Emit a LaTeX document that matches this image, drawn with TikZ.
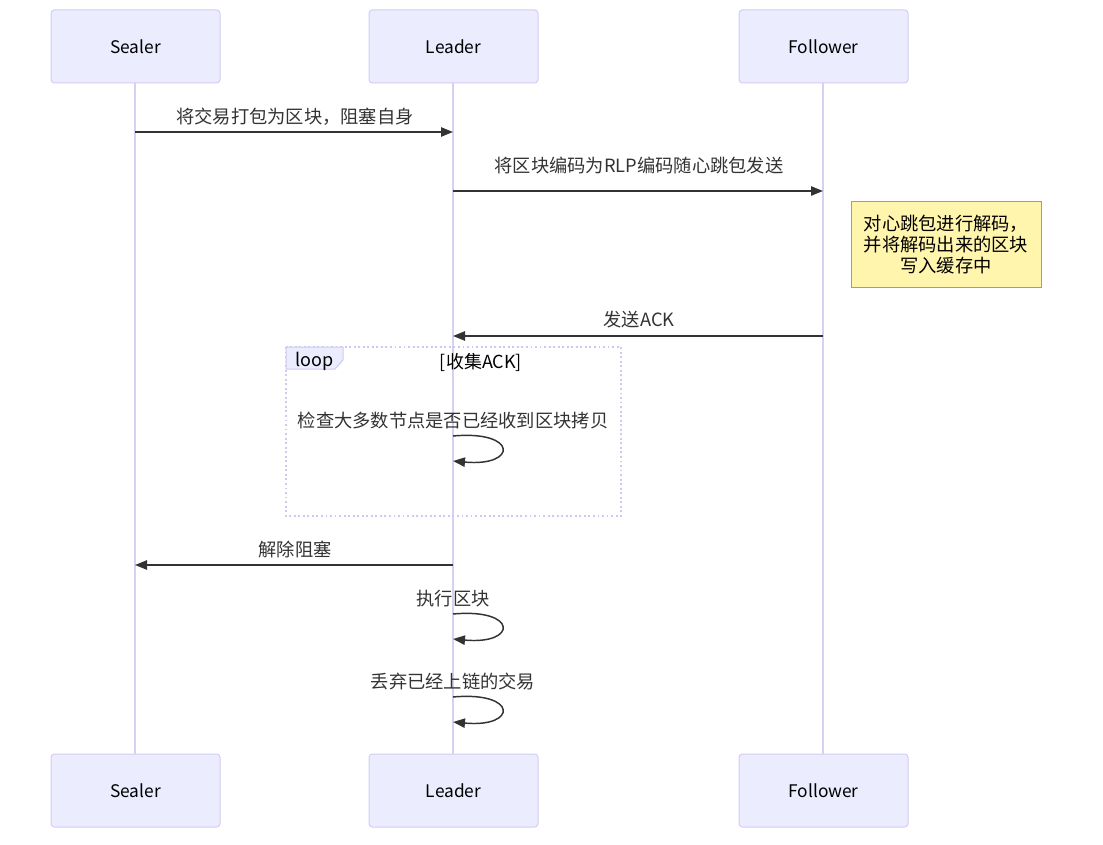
\documentclass[tikz,border=0pt]{standalone}
\usepackage{fontspec}
\setmainfont{Noto Sans CJK SC}
\usetikzlibrary{arrows.meta}
\definecolor{actorfill}{HTML}{ECECFF}
\definecolor{actorline}{HTML}{D4CCF4}
\definecolor{lifeline}{HTML}{D8D0F4}
\definecolor{ink}{HTML}{333333}
\definecolor{notefill}{HTML}{FFF5AD}
\definecolor{noteline}{HTML}{AAAA33}
\definecolor{loopline}{HTML}{D0C8F0}
\tikzset{
  actor/.style={draw=actorline, fill=actorfill, rounded corners=2.5pt, line width=0.75pt,
    minimum width=169*0.75pt, minimum height=73*0.75pt, inner sep=0pt,
    font=\fontsize{13}{15}\selectfont, text=black},
  life/.style={draw=lifeline, line width=1.5pt},
  msg/.style={draw=ink, line width=1.1pt, -{Triangle[length=9pt,width=7pt]}},
  msglabel/.style={font=\fontsize{13.7}{16}\selectfont, text=ink, inner sep=0pt},
  notebox/.style={draw=noteline, fill=notefill, line width=0.75pt,
    minimum width=190*0.75pt, minimum height=85*0.75pt, inner sep=0pt,
    font=\fontsize{13.7}{15.8}\selectfont, align=center, text=black},
  looptext/.style={font=\fontsize{13.5}{15}\selectfont, text=black, inner sep=0pt},
  loopframe/.style={draw=loopline, line width=1.4pt, dotted}
}
\begin{document}
\begin{tikzpicture}[x=0.75pt, y=-0.75pt]
\useasboundingbox (0,0) rectangle (1103,845);

% lifelines
\draw[life] (135,83) -- (135,754);
\draw[life] (453,83) -- (453,754);
\draw[life] (823,83) -- (823,754);

% participants, top and bottom
\node[actor] (sealerT)   at (135.5,46.5) {Sealer};
\node[actor] (leaderT)   at (453.5,46.5) {Leader};
\node[actor] (followerT) at (823.5,46.5) {Follower};
\node[actor] (sealerB)   at (135.5,790.5) {Sealer};
\node[actor] (leaderB)   at (453.5,790.5) {Leader};
\node[actor] (followerB) at (823.5,790.5) {Follower};

% message anchor points on the lifelines
\coordinate (s1) at (135,132);  \coordinate (l1) at (453,132);
\coordinate (l2) at (453,191);  \coordinate (f2) at (823,191);
\coordinate (f3) at (823,336);  \coordinate (l3) at (453,336);
\coordinate (l5) at (453,565);  \coordinate (s5) at (135,565);

% 1: Sealer -> Leader
\draw[msg] (s1) -- (l1);
\node[msglabel] (m1) at (295,117) {将交易打包为区块，阻塞自身};

% 2: Leader -> Follower
\draw[msg] (l2) -- (f2);
\node[msglabel] (m2) at (639,166) {将区块编码为RLP编码随心跳包发送};

% note right of Follower
\node[notebox] (note) at (946,244.5) {对心跳包进行解码，\\并将解码出来的区块\\写入缓存中};

% 3: Follower -> Leader
\draw[msg] (f3) -- (l3);
\node[msglabel] (m3) at (639,320) {发送ACK};

% loop frame
\draw[loopframe] (286,347) rectangle (621,516);
\draw[draw=loopline, fill=actorfill, line width=0.75pt]
  (286,347) -- (343,347) -- (343,360) -- (335,369) -- (286,369) -- cycle;
\node[looptext] (looptag) at (314.5,361) {loop};
\node[looptext] (loopcond) at (481,362) {[收集ACK]};

% 4: Leader self message inside loop
\node[msglabel] (m4) at (453,421) {检查大多数节点是否已经收到区块拷贝};
\coordinate (a4) at (453,436); \coordinate (b4) at (453,461);
\draw[msg] (a4) .. controls (518,430) and (518,467) .. (b4);

% 5: Leader -> Sealer
\draw[msg] (l5) -- (s5);
\node[msglabel] (m5) at (295,550) {解除阻塞};

% 6: execute block
\node[msglabel] (m6) at (453,599) {执行区块};
\coordinate (a6) at (453,614); \coordinate (b6) at (453,639);
\draw[msg] (a6) .. controls (518,608) and (518,645) .. (b6);

% 7: drop committed transactions
\node[msglabel] (m7) at (453,682) {丢弃已经上链的交易};
\coordinate (a7) at (453,697); \coordinate (b7) at (453,722);
\draw[msg] (a7) .. controls (518,691) and (518,728) .. (b7);
\end{tikzpicture}
\end{document}
